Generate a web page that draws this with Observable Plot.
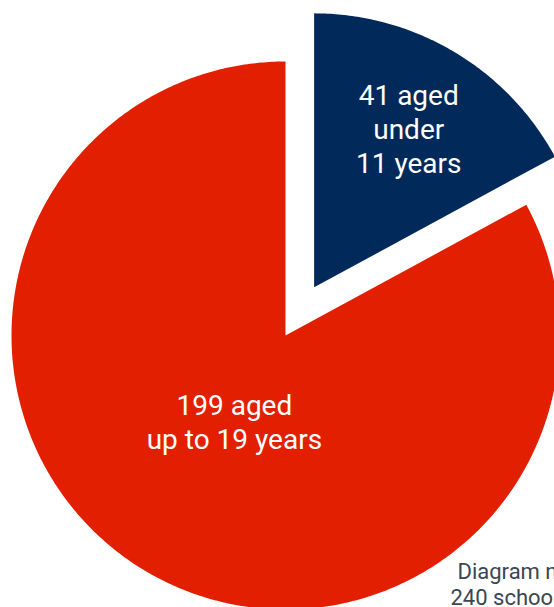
<!DOCTYPE html>
<html>
<head>
<meta charset="utf-8">
<script src="https://cdn.jsdelivr.net/npm/d3@7"></script>
<script src="https://cdn.jsdelivr.net/npm/@observablehq/plot@0.6"></script>
<style>
  html, body { margin: 0; padding: 0; background: #fff; overflow: hidden; }
  #chart { width: 554px; height: 607px; position: relative; }
</style>
</head>
<body>
<div id="chart"></div>
<script>
const categories = ["under11", "upto19"];
const values = [41, 199];
const labels = ["41 aged\nunder\n11 years", "199 aged\nup to 19 years"];
const colors = ["#012a5a", "#e21f00"];
const footLines = ["Diagram not to scale", "240 schools in total"];

// layout constants (pixels in chart units)
const R = 274;
const explode = [56, 0];
const labelR = [185, 100];

const arcs = d3.pie().sort(null).startAngle(0).endAngle(2 * Math.PI)(values);

const pts = [];
const labelData = [];
arcs.forEach((a, i) => {
  const mid = (a.startAngle + a.endAngle) / 2;
  const ox = explode[i] * Math.sin(mid), oy = explode[i] * Math.cos(mid);
  const key = categories[i];
  pts.push({key, x: ox, y: oy});
  const n = Math.max(4, Math.ceil((a.endAngle - a.startAngle) / 0.01));
  for (let k = 0; k <= n; k++) {
    const t = a.startAngle + (a.endAngle - a.startAngle) * k / n;
    pts.push({key, x: ox + R * Math.sin(t), y: oy + R * Math.cos(t)});
  }
  pts.push({key, x: ox, y: oy});
  labelData.push({
    key, text: labels[i],
    x: ox + labelR[i] * Math.sin(mid),
    y: oy + labelR[i] * Math.cos(mid)
  });
});

const footData = [
  {text: footLines[0], x: 172, y: -243},
  {text: footLines[1], x: 165, y: -269}
];

const chart = Plot.plot({
  width: 554,
  height: 607,
  margin: 0,
  x: {domain: [-285, 269], axis: null},
  y: {domain: [-272, 335], axis: null},
  color: {domain: categories, range: colors},
  style: {fontFamily: "Roboto, sans-serif", background: "#fff"},
  marks: [
    Plot.line(pts, {x: "x", y: "y", z: "key", fill: "key", stroke: "none", curve: "linear"}),
    Plot.text(labelData, {
      x: "x", y: "y", text: "text", fill: "#fff",
      fontSize: 28, lineHeight: 1.21, textAnchor: "middle", lineAnchor: "middle"
    }),
    Plot.text(footData, {
      x: "x", y: "y", text: "text", fill: "#3b4650",
      fontSize: 22, textAnchor: "start", lineAnchor: "bottom"
    })
  ]
});
document.getElementById("chart").appendChild(chart);
</script>
</body>
</html>
